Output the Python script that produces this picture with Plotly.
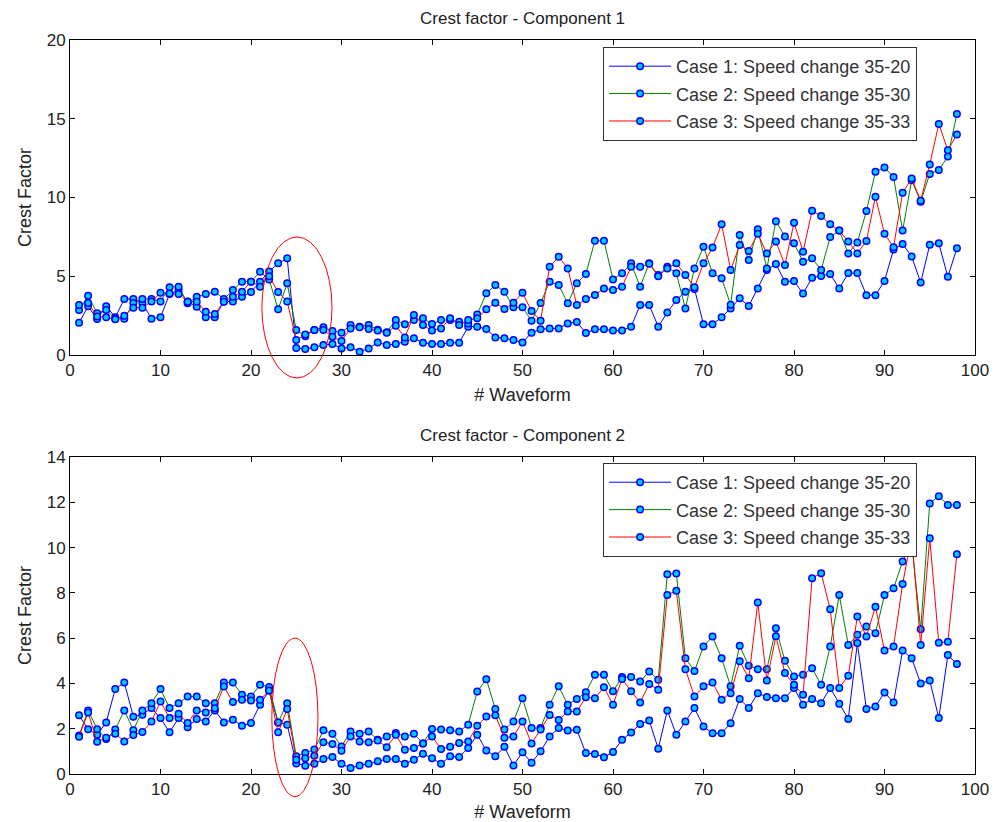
import plotly.graph_objects as go
from plotly.subplots import make_subplots

waveform = list(range(1, 99))

# ---- Component 1 ----
case1_comp1 = [2.05, 3.1, 2.28, 3.1, 2.4, 3.55, 3.56, 3.3, 2.3, 2.4,
               3.87, 4.13, 3.4, 3.07, 2.4, 2.4, 3.4, 3.4, 3.7, 4.0,
               4.66, 5.3, 5.82, 6.14, 0.45, 0.38, 0.49, 0.63, 0.7, 0.42,
               0.49, 0.21, 0.42, 0.8, 0.63, 0.7, 0.85, 1.06, 0.78, 0.7,
               0.7, 0.78, 0.78, 1.8, 1.8, 1.65, 1.12, 1.06, 0.95, 0.8,
               1.42, 1.63, 1.69, 1.69, 2.0, 2.1, 1.4, 1.63, 1.63, 1.55,
               1.55, 1.8, 3.17, 3.17, 1.8, 2.7, 3.49, 4.02, 4.2, 1.95,
               1.95, 2.4, 2.96, 3.6, 3.11, 4.23, 5.4, 5.78, 4.66, 4.7,
               3.9, 4.91, 5.02, 5.14, 4.23, 5.2, 5.2, 3.8, 3.8, 4.7,
               6.7, 7.05, 6.26, 4.6, 7.0, 7.09, 4.97, 6.78]
case2_comp1 = [2.86, 3.77, 2.66, 2.86, 2.3, 2.3, 3.3, 3.56, 3.56, 3.4,
               4.3, 4.34, 3.28, 3.7, 3.87, 4.02, 3.56, 4.13, 4.66, 4.66,
               5.29, 4.8, 2.9, 4.55, 1.59, 1.2, 1.59, 1.76, 1.52, 1.42,
               1.9, 1.8, 1.9, 1.6, 1.45, 2.22, 1.95, 2.22, 2.33, 1.97,
               2.22, 2.22, 2.12, 2.0, 2.58, 3.92, 4.44, 4.02, 3.03, 3.03,
               2.18, 3.3, 4.66, 4.45, 3.28, 4.55, 5.15, 7.25, 7.25, 4.8,
               5.19, 5.82, 4.34, 5.82, 5.08, 5.6, 5.19, 2.96, 5.5, 6.88,
               5.19, 4.87, 3.2, 7.62, 6.03, 7.98, 5.49, 8.5, 7.52, 7.09,
               5.93, 6.14, 5.4, 7.5, 7.9, 6.45, 7.15, 9.14, 11.64, 11.9,
               11.3, 7.9, 11.1, 9.73, 11.5, 11.75, 12.6, 15.3]
case3_comp1 = [3.17, 3.3, 2.45, 2.4, 2.27, 2.5, 3.0, 3.0, 3.4, 3.95,
               3.9, 3.87, 3.39, 3.39, 2.75, 2.6, 3.39, 3.7, 4.02, 4.66,
               4.34, 5.0, 4.0, 3.4, 0.95, 1.3, 1.59, 1.59, 1.16, 0.89,
               1.69, 1.76, 1.65, 1.55, 1.42, 1.86, 1.12, 2.54, 1.9, 1.55,
               1.69, 2.33, 1.9, 2.22, 2.33, 2.9, 3.32, 2.92, 3.32, 3.96,
               2.79, 2.18, 5.6, 6.24, 5.5, 3.17, 3.55, 3.81, 4.23, 4.13,
               4.34, 5.6, 5.6, 5.8, 5.0, 5.5, 5.82, 5.08, 4.3, 5.82,
               6.82, 8.3, 5.4, 6.98, 6.6, 7.7, 6.45, 7.2, 5.72, 8.4,
               6.56, 9.16, 8.82, 8.3, 7.9, 7.2, 6.45, 7.24, 10.05, 7.7,
               6.85, 10.3, 11.2, 9.8, 12.1, 14.67, 13.0, 14.0]

# ---- Component 2 ----
case1_comp2 = [2.59, 1.98, 1.73, 2.28, 3.75, 4.04, 2.53, 2.62, 2.91, 2.47,
               1.84, 2.47, 2.07, 2.43, 2.32, 2.81, 2.28, 2.4, 2.13, 2.25,
               3.06, 3.69, 2.28, 2.18, 0.46, 0.37, 0.45, 0.66, 0.75, 0.45,
               0.26, 0.38, 0.45, 0.56, 0.66, 0.66, 0.45, 0.63, 0.89, 0.7,
               0.45, 0.78, 0.75, 1.15, 1.73, 1.04, 0.78, 1.2, 0.38, 0.96,
               0.5, 1.0, 1.66, 2.03, 1.92, 1.95, 0.93, 0.88, 0.74, 0.97,
               1.51, 1.83, 2.21, 2.36, 1.12, 2.81, 1.73, 2.32, 2.91, 2.1,
               1.8, 1.8, 2.24, 3.31, 2.91, 3.57, 3.4, 3.35, 3.35, 3.8,
               3.06, 3.31, 3.13, 3.8, 3.1, 2.43, 5.78, 2.87, 2.98, 3.6,
               3.16, 5.45, 5.11, 4.0, 4.13, 2.47, 5.25, 4.86]
case2_comp2 = [1.7, 2.81, 1.98, 1.55, 1.96, 2.81, 1.93, 2.81, 3.13, 3.75,
               2.91, 3.13, 3.42, 3.42, 3.13, 3.13, 4.04, 4.04, 3.5, 3.42,
               3.94, 3.84, 2.28, 3.13, 0.78, 0.93, 1.08, 1.93, 1.78, 1.22,
               1.88, 1.78, 1.88, 1.51, 1.66, 1.81, 1.66, 1.78, 1.35, 1.99,
               1.96, 1.93, 1.88, 2.18, 3.64, 4.19, 2.87, 1.96, 2.32, 3.35,
               2.03, 2.03, 3.06, 3.87, 3.06, 3.31, 3.61, 4.38, 4.38, 3.65,
               4.28, 4.28, 4.09, 4.53, 4.16, 8.82, 8.86, 5.11, 4.55, 5.63,
               6.07, 5.11, 3.87, 5.66, 4.78, 4.63, 4.63, 6.44, 5.0, 4.31,
               4.38, 4.67, 3.94, 5.63, 7.9, 5.7, 6.15, 6.51, 6.22, 7.9,
               8.2, 9.38, 10.2, 6.39, 11.95, 12.27, 11.88, 11.88]
case3_comp2 = [1.65, 2.72, 1.42, 1.6, 1.78, 1.44, 1.72, 1.86, 2.32, 3.2,
               2.47, 2.66, 2.25, 2.81, 2.72, 2.9, 3.86, 3.18, 3.28, 3.25,
               3.28, 3.69, 1.84, 2.87, 0.63, 0.7, 0.81, 1.4, 1.33, 1.03,
               1.66, 1.44, 1.4, 1.48, 1.18, 1.73, 1.07, 1.15, 1.35, 1.66,
               1.1, 1.2, 1.37, 1.44, 2.13, 2.54, 2.6, 1.6, 1.66, 2.32,
               1.35, 1.96, 2.61, 2.39, 2.76, 2.76, 3.39, 3.35, 3.83, 3.06,
               4.2, 3.65, 3.16, 3.98, 3.72, 7.91, 8.09, 4.63, 3.42, 3.87,
               4.04, 3.28, 3.57, 4.98, 4.23, 7.57, 4.13, 6.08, 4.46, 3.94,
               3.5, 8.65, 8.87, 7.28, 3.8, 4.34, 6.96, 6.07, 7.39, 5.45,
               5.63, 8.39, 10.5, 5.7, 10.41, 5.8, 5.84, 9.71]

case_names = ["Case 1: Speed change 35-20",
              "Case 2: Speed change 35-30",
              "Case 3: Speed change 35-33"]
titles = ["Crest factor - Component 1", "Crest factor - Component 2"]
x_title = "# Waveform"
y_title = "Crest Factor"
x_ticks = [0, 10, 20, 30, 40, 50, 60, 70, 80, 90, 100]
y_ticks_1 = [0, 5, 10, 15, 20]
y_ticks_2 = [0, 2, 4, 6, 8, 10, 12, 14]

line_colors = ["#0000ff", "#008000", "#ff0000"]
FONT = "Liberation Sans, Arial, sans-serif"

dom_top = (0.5708, 1.0)
dom_bot = (0.0, 0.4319)
yr_top = (0, 20)
yr_bot = (0, 14)
xr = (0, 100)

fig = make_subplots(rows=2, cols=1, vertical_spacing=0.1)
fig.update_layout(
    xaxis=dict(domain=[0, 1]), yaxis=dict(domain=list(dom_top)),
    xaxis2=dict(domain=[0, 1]), yaxis2=dict(domain=list(dom_bot)),
)

series = [(case1_comp1, case2_comp1, case3_comp1),
          (case1_comp2, case2_comp2, case3_comp2)]
for r, group in enumerate(series):
    for i, vals in enumerate(group):
        fig.add_trace(go.Scatter(
            x=waveform, y=vals, mode="lines+markers", name=case_names[i],
            line=dict(color=line_colors[i], width=1),
            marker=dict(size=6.5, color="#00c8ff", symbol="circle",
                        line=dict(color="#0000ff", width=1.5)),
            legend="legend" if r == 0 else "legend2",
            legendgroup=f"g{r}{i}",
            showlegend=True,
        ), row=r + 1, col=1)

axis_common = dict(showline=True, linecolor="black", linewidth=1, mirror="ticks",
                   ticks="inside", ticklen=5, tickcolor="black", showgrid=False,
                   zeroline=False, automargin=False,
                   tickfont=dict(family=FONT, size=17, color="#222222"),
                   title_font=dict(family=FONT, size=18, color="#222222"))
for r in (1, 2):
    fig.update_xaxes(range=list(xr), tickvals=x_ticks, title_text=x_title,
                     title_standoff=8, row=r, col=1, **axis_common)
fig.update_yaxes(range=list(yr_top), tickvals=y_ticks_1, title_text=y_title,
                 title_standoff=10, row=1, col=1, **axis_common)
fig.update_yaxes(range=list(yr_bot), tickvals=y_ticks_2, title_text=y_title,
                 title_standoff=10, row=2, col=1, **axis_common)

def to_paper(x, y, dom, yr):
    px = (x - xr[0]) / (xr[1] - xr[0])
    py = dom[0] + (y - yr[0]) / (yr[1] - yr[0]) * (dom[1] - dom[0])
    return px, py

ellipses = [((21.2, -1.46), (28.95, 7.5), dom_top, yr_top),
            ((22.3, -1.0), (27.4, 6.0), dom_bot, yr_bot)]
for (x0, y0), (x1, y1), dom, yr in ellipses:
    a0, b0 = to_paper(x0, y0, dom, yr)
    a1, b1 = to_paper(x1, y1, dom, yr)
    fig.add_shape(type="circle", xref="paper", yref="paper",
                  x0=a0, y0=b0, x1=a1, y1=b1,
                  line=dict(color="#ff0000", width=1))

for title, dom in zip(titles, (dom_top, dom_bot)):
    fig.add_annotation(text=title, xref="paper", yref="paper", x=0.5, y=dom[1],
                       yshift=10, yanchor="bottom", showarrow=False,
                       font=dict(family=FONT, size=17, color="#222222"))

legend_style = dict(bgcolor="white", bordercolor="#333333", borderwidth=1,
                    font=dict(family=FONT, size=18, color="#333333"),
                    xanchor="right", yanchor="top", tracegroupgap=1,
                    traceorder="grouped", itemwidth=62)
fig.update_layout(
    width=1005, height=822,
    margin=dict(l=70, r=30, t=40, b=48, autoexpand=False),
    paper_bgcolor="white", plot_bgcolor="white",
    font=dict(family=FONT, color="black"),
    legend=dict(x=0.936, y=0.9905, **legend_style),
    legend2=dict(x=0.936, y=0.4237, **legend_style),
)

fig.write_html("out.html")
